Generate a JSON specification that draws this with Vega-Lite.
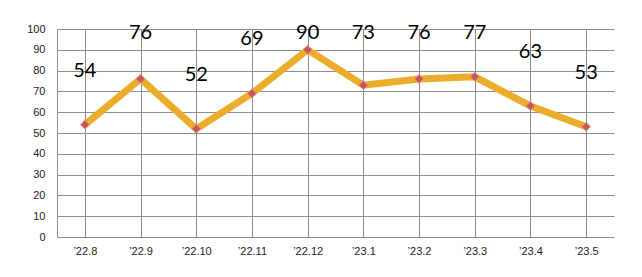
{
  "$schema": "https://vega.github.io/schema/vega-lite/v6.json",
  "width": 557,
  "height": 208,
  "autosize": {"type": "none"},
  "padding": {"left": 57, "top": 29, "right": 28, "bottom": 40},
  "background": "white",
  "data": {"values": [
    {"month": "’22.8", "value": 54},
    {"month": "’22.9", "value": 76},
    {"month": "’22.10", "value": 52},
    {"month": "’22.11", "value": 69},
    {"month": "’22.12", "value": 90},
    {"month": "’23.1", "value": 73},
    {"month": "’23.2", "value": 76},
    {"month": "’23.3", "value": 77},
    {"month": "’23.4", "value": 63},
    {"month": "’23.5", "value": 53}
  ]},
  "encoding": {
    "x": {"field": "month", "type": "ordinal", "sort": null,
      "scale": {"type": "point", "padding": 0.5},
      "axis": {"title": null, "labelAngle": 0, "ticks": false, "domain": false,
        "grid": true, "gridColor": "#8c8c8c", "gridWidth": 1,
        "labelFont": "Liberation Sans", "labelFontSize": 11, "labelColor": "#222",
        "labelPadding": 8}},
    "y": {"field": "value", "type": "quantitative",
      "scale": {"domain": [0, 100], "nice": false},
      "axis": {"title": null, "values": [0,10,20,30,40,50,60,70,80,90,100],
        "ticks": false, "domain": true, "domainColor": "#8c8c8c",
        "grid": true, "gridColor": "#8c8c8c", "gridWidth": 1,
        "labelFont": "Liberation Sans", "labelFontSize": 11, "labelColor": "#222",
        "labelPadding": 12}}
  },
  "layer": [
    {"mark": {"type": "line", "color": "#EBAE2C", "strokeWidth": 7, "strokeJoin": "miter"}},
    {"mark": {"type": "point", "shape": "diamond", "filled": true, "size": 70,
      "fill": "#C9545A", "stroke": "#D97A7A", "strokeWidth": 1, "opacity": 1}},
    {"transform": [{"calculate": "min(datum.value + 26, 98)", "as": "labelY"}],
     "mark": {"type": "text", "font": "Lato", "fontWeight": 400, "fontSize": 20,
       "color": "#000", "baseline": "middle"},
     "encoding": {"y": {"field": "labelY", "type": "quantitative"},
       "text": {"field": "value", "type": "quantitative"}}}
  ],
  "config": {"view": {"stroke": null}}
}
